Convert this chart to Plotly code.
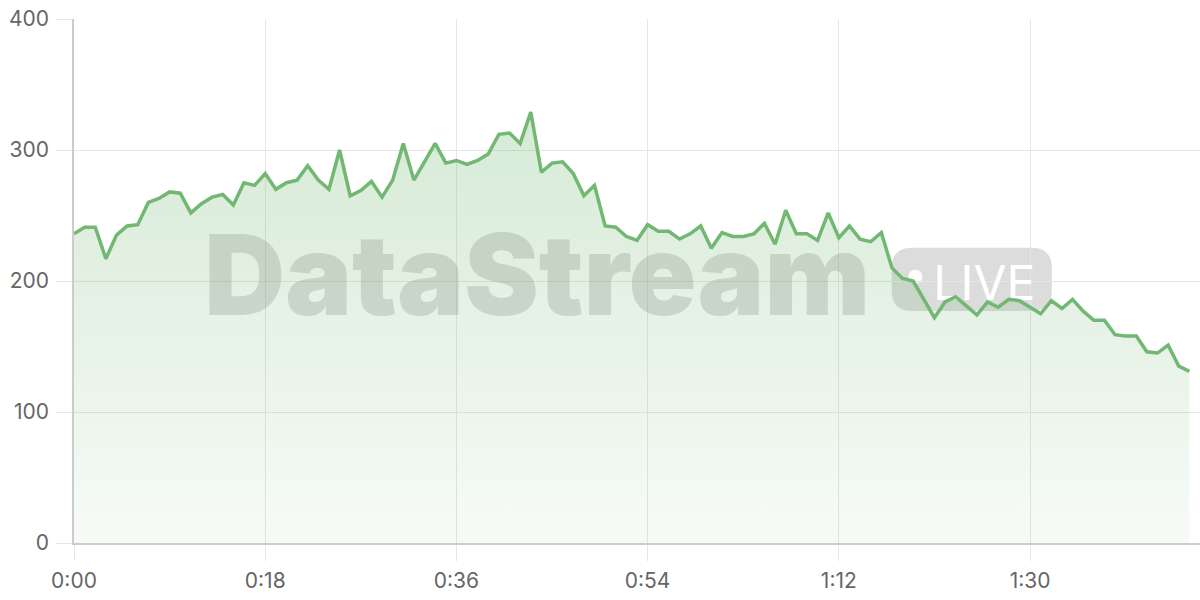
import plotly.graph_objects as go

# one reading per second, 0:00 .. 1:45
values = [
    236, 241, 241, 217, 235, 242, 243, 260, 263, 268,
    267, 252, 259, 264, 266, 258, 275, 273, 282, 270,
    275, 277, 288, 277, 270, 300, 265, 269, 276, 264,
    277, 305, 277, 291, 305, 290, 292, 289, 292, 297,
    312, 313, 305, 329, 283, 290, 291, 282, 265, 273,
    242, 241, 234, 231, 243, 238, 238, 232, 236, 242,
    225, 237, 234, 234, 236, 244, 228, 254, 236, 236,
    231, 252, 233, 242, 232, 230, 237, 210, 202, 200,
    186, 172, 184, 188, 181, 174, 184, 180, 186, 185,
    180, 175, 185, 179, 186, 177, 170, 170, 159, 158,
    158, 146, 145, 151, 135, 131,
]
seconds = list(range(len(values)))

tick_seconds = [0, 18, 36, 54, 72, 90]
tick_labels = ["0:00", "0:18", "0:36", "0:54", "1:12", "1:30"]
y_ticks = [0, 100, 200, 300, 400]

line_color = "#72b872"
grid_color = "#e6e6e6"
axis_color = "#cccccc"
label_font = dict(family="Inter, 'Noto Sans', sans-serif", size=21, color="#666666")
mark_gray = "rgba(128,128,128,0.28)"

fig = go.Figure()

# watermark text, drawn first so the area sits on top of it
fig.add_trace(go.Scatter(
    x=[43.6], y=[195.5], mode="text", text=["DataStream"],
    textposition="middle center",
    textfont=dict(family="Inter, 'Noto Sans', sans-serif", size=112, color=mark_gray, weight=900),
    hoverinfo="skip", showlegend=False,
))
fig.add_trace(go.Scatter(
    x=[85.7], y=[195], mode="text", text=["LIVE"],
    textposition="middle center",
    textfont=dict(family="Inter, 'Noto Sans', sans-serif", size=48, color="white"),
    hoverinfo="skip", showlegend=False,
))

# the series itself
fig.add_trace(go.Scatter(
    x=seconds, y=values, mode="lines",
    line=dict(color=line_color, width=3.5),
    fill="tozeroy",
    fillgradient=dict(
        type="vertical", start=0, stop=330,
        colorscale=[[0, "rgba(118,185,118,0.06)"], [1, "rgba(118,185,118,0.30)"]],
    ),
    showlegend=False,
))

# LIVE badge (rounded box + dot)
bx0, bx1, by0, by1 = 76.98, 92.05, 177.1, 225.4
rx, ry = 1.9, 15.3
badge_path = (
    f"M {bx0 + rx},{by0} L {bx1 - rx},{by0} Q {bx1},{by0} {bx1},{by0 + ry} "
    f"L {bx1},{by1 - ry} Q {bx1},{by1} {bx1 - rx},{by1} "
    f"L {bx0 + rx},{by1} Q {bx0},{by1} {bx0},{by1 - ry} "
    f"L {bx0},{by0 + ry} Q {bx0},{by0} {bx0 + rx},{by0} Z"
)
fig.add_shape(type="path", path=badge_path, xref="x", yref="y",
              fillcolor=mark_gray, line=dict(width=0), layer="below")
fig.add_shape(type="circle", xref="x", yref="y",
              x0=79.2 - 0.66, x1=79.2 + 0.66, y0=203.3 - 5.3, y1=203.3 + 5.3,
              fillcolor="white", line=dict(width=0), layer="below")

fig.update_xaxes(
    range=[0, 106],
    tickvals=tick_seconds, ticktext=tick_labels,
    showgrid=True, gridcolor=grid_color, gridwidth=1,
    ticks="outside", ticklen=16, tickcolor=grid_color, tickwidth=1,
    showline=True, linecolor=axis_color, linewidth=1.5,
    zeroline=False, tickfont=label_font, ticklabelstandoff=2,
)
fig.update_yaxes(
    range=[0, 400],
    tickvals=y_ticks,
    showgrid=True, gridcolor=grid_color, gridwidth=1,
    ticks="outside", ticklen=16, tickcolor=grid_color, tickwidth=1,
    showline=True, linecolor=axis_color, linewidth=1.5,
    zeroline=False, tickfont=label_font, ticklabelstandoff=3,
)

fig.update_layout(
    width=1200, height=600,
    margin=dict(l=74, r=0, t=19, b=57),
    paper_bgcolor="white",
    plot_bgcolor="white",
    showlegend=False,
)

# drop the default page margin so the figure sits at the window corner
fig.write_html("out.html", config={"displayModeBar": False},
               post_script="document.body.style.margin='0';")
